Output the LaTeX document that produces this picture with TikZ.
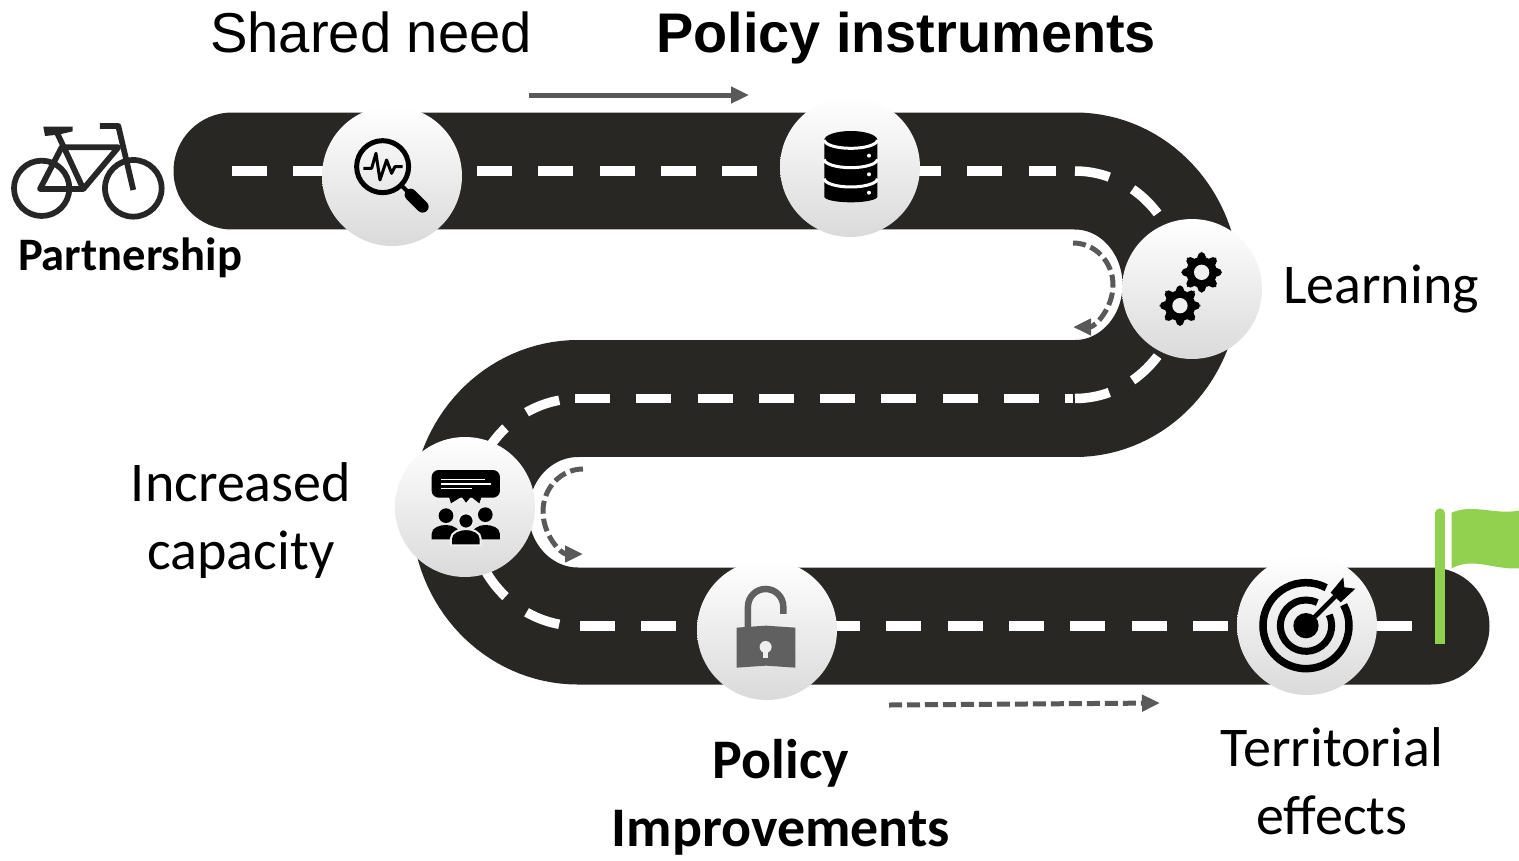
\documentclass[tikz,border=0pt]{standalone}
\usepackage{fontspec}
\usepackage{tikz}
\usetikzlibrary{arrows.meta}
\setmainfont{Carlito}
\newfontfamily\headfont{Liberation Sans}

\definecolor{roadblack}{HTML}{282723}
\definecolor{arrowgray}{HTML}{595959}
\definecolor{flaggreen}{HTML}{92D050}
\definecolor{stoplow}{HTML}{DADADA}
\definecolor{stopmid}{HTML}{EFEFEF}
\definecolor{lockgray}{HTML}{606060}

\tikzset{
    road/.style={line width=2.34cm, color=roadblack, line cap=round},
    lane/.style={line width=0.19cm, color=white, dash pattern=on 0.7cm off 0.526cm},
    stop/.style={circle, minimum size=2.8cm, inner sep=0pt, top color=white, bottom color=stoplow},
    hint/.style={line width=0.1cm, color=arrowgray, -{Triangle[length=0.36cm,width=0.32cm]}},
    hintdash/.style={hint, dash pattern=on 0.26cm off 0.1cm},
    label/.style={align=center, font=\fontsize{31.9}{38.7}\selectfont, inner sep=0pt},
    strong/.style={align=center, font=\fontsize{31.8}{38.7}\selectfont\bfseries, inner sep=0pt},
    head/.style={align=center, font=\fontsize{32}{38.7}\selectfont\headfont, inner sep=0pt},
}

\begin{document}
\begin{tikzpicture}[x=0.02cm, y=-0.02cm]
\useasboundingbox (0,0) rectangle (1519,860);

% Road
\draw[road] (232,171) -- (1075,171) arc (-90:90:106 and 113.75) -- (578,398.5) arc (-90:-270:108 and 113.75) -- (1431,626);

% Lane marks
\draw[lane] (232,171) -- (1056,171);
\draw[lane] (1075,171) arc (-90:0:106 and 113.75);
\draw[lane] (1075,398.5) arc (90:0:106 and 113.75);
\draw[lane] (575,398.5) -- (1073,398.5);
\draw[lane] (578,512.25) ++(-100:108 and 113.75) arc (-100:-180:108 and 113.75);
\draw[lane] (578,512.25) ++(100:108 and 113.75) arc (100:180:108 and 113.75);
\draw[lane] (580,626) -- (1413,626);

% Direction arrows
\coordinate (toparrowa) at (529,95);
\coordinate (toparrowb) at (749,95);
\coordinate (lowarrowa) at (889,705);
\coordinate (lowarrowb) at (1160,703);
\draw[hint] (toparrowa) -- (toparrowb);
\draw[hintdash] (lowarrowa) -- (lowarrowb);
\draw[hintdash] (1073,243) arc (-90:90:40 and 42);
\draw[hintdash] (583,469) arc (-90:-270:40 and 42.5);

% Stops
\node[stop] (needstop) at (392,176) {};
\node[stop] (datastop) at (850,167) {};
\node[stop] (gearstop) at (1192,289) {};
\node[stop] (crowdstop) at (465,507) {};
\node[stop] (lockstop) at (767,630) {};
\node[stop] (goalstop) at (1307,625) {};

% Bicycle
\begin{scope}[shift={(0,90)}, scale=0.3333, color=black!85, line width=0.115cm, line join=round]
    \draw (125,295) circle (83);
    \draw (400,295) circle (85);
    \draw (120,297) -- (250,297) -- (355,172) -- (185,172) -- cycle;
    \draw (172,130) -- (250,297);
    \draw (300,108) -- (355,108) -- (400,300);
    \fill (130,110) -- (218,110) -- (218,124) -- (175,134) -- (135,138) -- cycle;
\end{scope}

% Magnifier
\begin{scope}[shift={(0,90)}, scale=0.3333]
    \draw[line width=0.1cm] (1148,230) circle (78);
    \draw[line width=0.06cm, line join=round] (1090,235) -- (1115,235) -- (1128,190) -- (1140,270) -- (1160,210) -- (1175,250) -- (1185,230) -- (1208,230);
    \draw[line width=0.08cm] (1205,287) -- (1235,317);
    \draw[line width=0.24cm, line cap=round] (1232,314) -- (1268,350);
\end{scope}

% Database
\begin{scope}[shift={(770,90)}, scale=0.3333]
    \fill (163,150) arc (180:360:79.5 and 27) -- (322,320) arc (0:180:79.5 and 17) -- cycle;
    \foreach \ylev in {150,208,266} {
        \draw[white, line width=0.06cm] (163,\ylev) arc (180:0:79.5 and 25);
    }
    \foreach \ydot in {197,253,308} {
        \fill[white] (297,\ydot) circle (6);
    }
\end{scope}

% Gears
\begin{scope}[shift={(770,90)}, scale=0.3333]
    \foreach \gx/\gy in {1295/547,1230/647} {
        \begin{scope}[shift={(\gx,\gy)}]
            \fill (0,0) circle (46);
            \foreach \a in {0,45,...,315} {
                \fill[rotate=\a, rounded corners=3pt] (-13,30) rectangle (13,61);
            }
            \fill[stopmid] (0,0) circle (23);
        \end{scope}
    }
\end{scope}

% Speech bubble and people
\begin{scope}[shift={(390,400)}, scale=0.3333]
    \fill[rounded corners=4pt] (125,210) rectangle (330,293);
    \fill (177,290) -- (183,310) -- (215,290) -- (228,308) -- (243,290) -- (268,310) -- (275,290) -- cycle;
    \draw[white, line width=0.03cm] (153,238) -- (285,238);
    \draw[white, line width=0.03cm] (153,252) -- (302,252);
    \draw[white, line width=0.03cm] (153,265) -- (245,265);
    \fill (168,347) circle (22);
    \fill (286,344) circle (22);
    \fill (125,418) -- (125,402) .. controls (125,382) and (150,375) .. (168,375) .. controls (190,375) and (212,385) .. (212,418) -- cycle;
    \fill (330,418) -- (330,402) .. controls (330,382) and (305,375) .. (286,375) .. controls (265,375) and (243,385) .. (243,418) -- cycle;
    \filldraw[draw=stopmid, line width=0.04cm] (228,363) circle (23);
    \filldraw[draw=stopmid, line width=0.04cm] (183,436) -- (183,415) .. controls (183,397) and (208,387) .. (228,387) .. controls (248,387) and (272,397) .. (272,415) -- (272,436) -- cycle;
\end{scope}

% Open lock
\begin{scope}[shift={(390,400)}, scale=0.3333]
    \draw[lockgray, line width=0.13cm] (1074,690) -- (1074,620) arc (-180:0:53) -- (1180,642);
    \fill[lockgray] (1040,683) -- (1128,677) -- (1216,683) -- (1216,803) -- (1128,797) -- (1040,803) -- cycle;
    \fill[stopmid] (1127,741) circle (18);
    \draw[stopmid, line width=0.1cm] (1127,745) -- (1127,775);
\end{scope}

% Target
\begin{scope}[shift={(1200,490)}, scale=0.3333]
    \draw[line width=0.15cm] (318,407) ++(-29:129) arc (-29:298:129);
    \draw[line width=0.14cm] (318,407) ++(-25:77) arc (-25:296:77);
    \fill (318,407) circle (38);
    \draw[line width=0.09cm] (325,400) -- (415,310);
    \fill (392,308) -- (430,262) -- (433,292) -- (466,296) -- (422,337) -- cycle;
\end{scope}

% Flag
\begin{scope}[shift={(1200,490)}, scale=0.3333]
    \draw[flaggreen, line width=0.2cm] (720,462) -- (720,70);
    \fill[flaggreen] (720,70) circle (15);
    \fill[flaggreen] (755,68) .. controls (820,40) and (880,75) .. (957,62) -- (957,235) .. controls (880,240) and (820,200) .. (755,235) -- cycle;
\end{scope}

% Labels
\node[head] (needlabel) at (371,32) {Shared need};
\node[head, font=\fontsize{31.8}{38.7}\selectfont\headfont\bfseries] (datalabel) at (906,38) {Policy instruments};
\node[strong, font=\fontsize{26.5}{32}\selectfont\bfseries] (bikelabel) at (130,258) {Partnership};
\node[label] (gearlabel) at (1381,289) {Learning};
\node[label] (crowdlabel) at (241,521) {Increased\\capacity};
\node[strong] (locklabel) at (781,797) {Policy\\Improvements};
\node[label] (goallabel) at (1332,781) {Territorial\\effects};

\end{tikzpicture}
\end{document}
